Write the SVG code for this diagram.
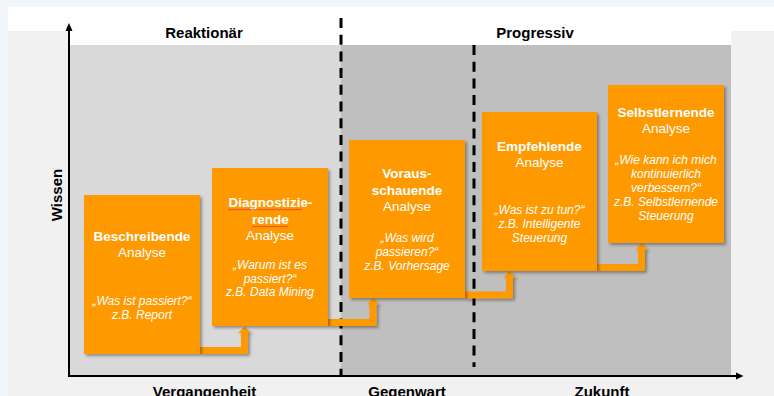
<svg xmlns="http://www.w3.org/2000/svg" width="774" height="396" viewBox="0 0 774 396">
  <defs>
    <filter id="shadow" x="-10%" y="-10%" width="130%" height="130%">
      <feDropShadow dx="2" dy="2" stdDeviation="1.5" flood-color="#000" flood-opacity="0.35"/>
    </filter>
  </defs>
  <style>
    text { font-family: "Liberation Sans", Arial, sans-serif; }
    .hdr { font-size: 15px; font-weight: bold; fill: #000; text-anchor: middle; }
    .box { fill: #ff9900; filter: url(#shadow); }
    .conn { fill: #ff9900; filter: url(#shadow); }
    .title { font-size: 13.5px; font-weight: bold; fill: #fff; text-anchor: middle; }
    .sub { font-size: 13.5px; fill: #fff; text-anchor: middle; }
    .quote { font-size: 12px; font-style: italic; fill: #fff; text-anchor: middle; }
    .dash { stroke: #000; stroke-width: 3; stroke-dasharray: 10 6.7; fill: none; }
    .axis { stroke: #000; stroke-width: 2; fill: none; }
    .squiggle { stroke: #e53935; stroke-width: 0.8; fill: none; }
  </style>

  <!-- page and panel backgrounds -->
  <rect x="0" y="0" width="774" height="396" fill="#f3f6f9"/>
  <rect x="8" y="7" width="766" height="389" fill="#f1f1f1"/>
  <rect x="8" y="7" width="766" height="24" fill="#ffffff"/>
  <rect x="69" y="31" width="662" height="14" fill="#ffffff"/>
  <rect x="69" y="45" width="272" height="331" fill="#d9d9d9"/>
  <rect x="341" y="45" width="390" height="331" fill="#bfbfbf"/>

  <!-- phase separators -->
  <line class="dash" x1="341" y1="18" x2="341" y2="376"/>
  <line class="dash" x1="474" y1="45" x2="474" y2="367"/>

  <!-- axes -->
  <g id="axes">
    <line class="axis" x1="69" y1="377" x2="69" y2="30"/>
    <polygon points="65.5,31 69,23 72.5,31" fill="#000"/>
    <line class="axis" x1="68" y1="376" x2="737" y2="376"/>
    <polygon points="736,372.5 743.5,376 736,379.5" fill="#000"/>
  </g>

  <!-- headings and axis labels -->
  <text class="hdr" x="204" y="37.5">Reaktionär</text>
  <text class="hdr" x="535" y="37.5">Progressiv</text>
  <text class="hdr" transform="translate(61.5,195) rotate(-90)" x="0" y="0">Wissen</text>
  <text class="hdr" x="204.5" y="396.5">Vergangenheit</text>
  <text class="hdr" x="407" y="396.5">Gegenwart</text>
  <text class="hdr" x="602" y="396.5">Zukunft</text>

  <!-- step connectors -->
  <g id="connectors">
    <polygon class="conn" points="200,347 241,347 241,333 238,333 244.5,326.5 251,333 248,333 248,354 200,354"/>
    <polygon class="conn" points="328,319 369.5,319 369.5,304.5 367,304.5 373,298 379,304.5 376.5,304.5 376.5,326 328,326"/>
    <polygon class="conn" points="465,291.5 506,291.5 506,277.5 503.5,277.5 509.5,271 515.5,277.5 513,277.5 513,298.5 465,298.5"/>
    <polygon class="conn" points="597,264 638,264 638,249.5 635.5,249.5 641.5,243 647.5,249.5 645,249.5 645,271 597,271"/>
  </g>

  <!-- analysis stages -->
  <g id="beschreibend">
    <rect class="box" x="84" y="195" width="116" height="159"/>
    <text class="title" x="142" y="240.5">Beschreibende</text>
    <text class="sub" x="142" y="257">Analyse</text>
    <text class="quote" x="142" y="305">„Was ist passiert?“</text>
    <text class="quote" x="142" y="318.5">z.B. Report</text>
  </g>

  <g id="diagnostizierend">
    <rect class="box" x="212" y="168" width="116" height="158"/>
    <text class="title" x="270.5" y="206.5">Diagnostizie-</text>
    <text class="title" x="270.5" y="223.5">rende</text>
    <path class="squiggle" d="M228,209.5 q1,-1 2,0 t2,0 t2,0 t2,0 t2,0 t2,0 t2,0 t2,0 t2,0 t2,0 t2,0 t2,0 t2,0 t2,0 t2,0 t2,0 t2,0 t2,0 t2,0 t2,0 t2,0 t2,0 t2,0 t2,0 t2,0 t2,0 t2,0 t2,0 t2,0 t2,0 t2,0 t2,0 t2,0 t2,0 t2,0 t2,0 t2,0"/>
    <path class="squiggle" d="M252,226.5 q1,-1 2,0 t2,0 t2,0 t2,0 t2,0 t2,0 t2,0 t2,0 t2,0 t2,0 t2,0 t2,0 t2,0 t2,0 t2,0 t2,0 t2,0 t2,0"/>
    <text class="sub" x="270" y="240">Analyse</text>
    <text class="quote" x="270" y="269">„Warum ist es</text>
    <text class="quote" x="270" y="282.5">passiert?“</text>
    <text class="quote" x="270" y="296">z.B. Data Mining</text>
  </g>

  <g id="vorausschauend">
    <rect class="box" x="349" y="140" width="116" height="158"/>
    <text class="title" x="407" y="177.5">Voraus-</text>
    <text class="title" x="407" y="194.5">schauende</text>
    <text class="sub" x="407" y="211">Analyse</text>
    <text class="quote" x="407" y="241.5">„Was wird</text>
    <text class="quote" x="407" y="255.5">passieren?“</text>
    <text class="quote" x="407" y="269.5">z.B. Vorhersage</text>
  </g>

  <g id="empfehlend">
    <rect class="box" x="482" y="112" width="115" height="159"/>
    <text class="title" x="539.5" y="150.5">Empfehlende</text>
    <text class="sub" x="539.5" y="167">Analyse</text>
    <text class="quote" x="539.5" y="214">„Was ist zu tun?“</text>
    <text class="quote" x="539.5" y="228">z.B. Intelligente</text>
    <text class="quote" x="539.5" y="242">Steuerung</text>
  </g>

  <g id="selbstlernend">
    <rect class="box" x="608" y="85" width="116" height="158"/>
    <text class="title" x="666" y="116.5">Selbstlernende</text>
    <text class="sub" x="666" y="133">Analyse</text>
    <text class="quote" x="666" y="164">„Wie kann ich mich</text>
    <text class="quote" x="666" y="178">kontinuierlich</text>
    <text class="quote" x="666" y="191.5">verbessern?“</text>
    <text class="quote" x="666" y="205.5">z.B. Selbstlernende</text>
    <text class="quote" x="666" y="219.5">Steuerung</text>
  </g>
</svg>
